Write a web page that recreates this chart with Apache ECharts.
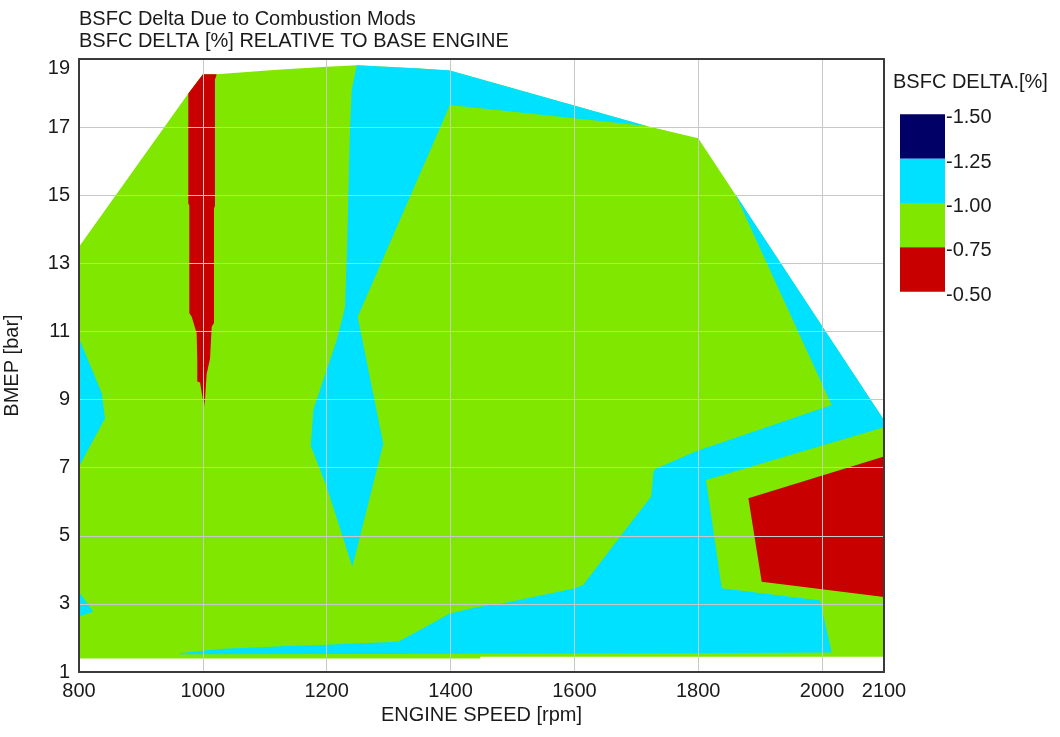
<!DOCTYPE html>
<html>
<head>
<meta charset="utf-8">
<script src="https://cdn.jsdelivr.net/npm/echarts@6/dist/echarts.min.js"></script>
<style>
html,body{margin:0;padding:0;background:#fff;}
#chart{width:1060px;height:737px;}
</style>
</head>
<body>
<div id="chart"></div>
<script>
// ---- Data ----
const titleText = 'BSFC Delta Due to Combustion Mods';
const subTitleText = 'BSFC DELTA [%] RELATIVE TO BASE ENGINE';
const xName = 'ENGINE SPEED [rpm]';
const yName = 'BMEP [bar]';
const legendTitle = 'BSFC DELTA.[%]';

const xTicks = [800, 1000, 1200, 1400, 1600, 1800, 2000, 2100];
const yTicks = [1, 3, 5, 7, 9, 11, 13, 15, 17, 19];

// contour levels (legend, top to bottom) and band colours
const levelLabels = ['-1.50', '-1.25', '-1.00', '-0.75', '-0.50'];
const bandColors = ['#000066', '#00e0ff', '#80e800', '#c80000'];

// region outlines in data units [rpm, bar]
const envelope = [[800,1.40],[800,13.49],[976.5,17.99],[1000,18.55],[1022.4,18.55],[1114,18.68],[1200,18.77],
  [1248.5,18.82],[1350,18.72],[1399,18.66],[1716.8,17.03],[1800,16.67],[2100,8.40],[2100,1.45],[1448,1.45],[1448,1.40]];

const cyanTop = [[1248.5,18.82],[1350,18.72],[1399,18.66],[1716.8,17.03],[1399,17.65],[1250.1,11.43],[1291.4,7.70],
  [1253.8,4.97],[1241.4,4.09],[1200,6.44],[1174.2,7.64],[1178.4,8.70],[1183.9,9.0],[1205.4,10.16],[1216.2,10.75],
  [1225.9,11.43],[1229.6,11.73],[1233.3,13.69],[1237.7,17.01],[1240.4,18.09]];

const cyanRight = [[1859.5,15.04],[2100,8.40],[2100,8.19],[1812.6,6.64],[1838,3.46],[1996.7,3.10],[2015.6,1.57],
  [1769,1.55],[1265,1.53],[963,1.52],[963,1.55],[995,1.62],[1033,1.68],[1092,1.73],[1146,1.77],[1200,1.80],
  [1243,1.84],[1315.7,1.89],[1399,2.72],[1442,2.90],[1485,3.02],[1601,3.46],[1614.5,3.56],[1673.7,4.97],
  [1724,6.15],[1728,6.91],[1733,6.98],[1797.5,7.49],[2015.6,8.84]];

const cyanLeft = [[800,10.80],[836.7,9.19],[842,8.45],[800,7.03]];
const cyanLeftBottom = [[800,3.36],[823,2.77],[800,2.63]];

const redStrip = [[976.5,17.99],[1000,18.55],[1022.4,18.55],[1019.6,18.4],[1019.6,14.7],[1018,14.6],[1018,11.25],
  [1014.3,11.14],[1011.6,10.2],[1008.8,9.97],[1006.2,9.75],[1003.5,9.0],[1001.9,8.79],[1000.5,8.79],[1000,9.0],
  [995.5,9.5],[991,9.53],[991,10.16],[990,10.95],[982,11.43],[978.1,11.54],[978.1,14.7],[976.5,14.76]];

const redCorner = [[1881,6.10],[2100,7.33],[2100,3.20],[1902.5,3.65]];

// drawing order: later regions paint over earlier ones
const regions = [
  {pts: envelope, band: 2},
  {pts: cyanTop, band: 1},
  {pts: cyanRight, band: 1},
  {pts: cyanLeft, band: 1},
  {pts: cyanLeftBottom, band: 1},
  {pts: redStrip, band: 3},
  {pts: redCorner, band: 3}
];

// ---- Chart ----
const FONT = 'Liberation Sans, Arial, Helvetica, sans-serif';
const TXT = '#1a1a1a';
const chart = echarts.init(document.getElementById('chart'), null, {renderer: 'canvas'});

const GRID = {left: 79, top: 59, width: 805, height: 613, containLabel: false, outerBoundsMode: 'none'};

const legendGraphics = [];
const boxTop = 114.3, boxH = 44.35, boxX = 900, boxW = 45;
legendGraphics.push({type: 'text', left: 893, top: 72,
  style: {text: legendTitle, font: '20px ' + FONT, fill: TXT}});
for (let i = 0; i < bandColors.length; i++) {
  legendGraphics.push({type: 'rect', shape: {x: boxX, y: boxTop + i * boxH, width: boxW, height: boxH},
    style: {fill: bandColors[i]}});
}
for (let i = 0; i < levelLabels.length; i++) {
  legendGraphics.push({type: 'text', x: boxX + boxW + 1, y: boxTop + i * boxH + 3.5,
    style: {text: levelLabels[i], font: '20px ' + FONT, fill: TXT, verticalAlign: 'middle', align: 'left'}});
}

const frameLine = {show: true, lineStyle: {color: '#3a3a3a', width: 2}};

const option = {
  animation: false,
  textStyle: {fontFamily: FONT},
  title: [
    {text: titleText, left: 79, top: 9, padding: 0,
      textStyle: {fontSize: 20, fontWeight: 'normal', color: TXT, fontFamily: FONT}},
    {text: subTitleText, left: 79, top: 31, padding: 0,
      textStyle: {fontSize: 20, fontWeight: 'normal', color: TXT, fontFamily: FONT}}
  ],
  grid: GRID,
  xAxis: [
    {type: 'value', min: 800, max: 2100, position: 'bottom', z: 5,
      name: xName, nameLocation: 'middle', nameGap: 30,
      nameTextStyle: {fontSize: 20, color: TXT, fontFamily: FONT},
      axisLine: frameLine,
      axisTick: {show: false, customValues: xTicks},
      axisLabel: {customValues: xTicks, fontSize: 20, color: TXT, margin: 9, fontFamily: FONT,
        formatter: v => String(v)},
      splitLine: {show: true, lineStyle: {color: '#c8c8c8', width: 1}}},
    {type: 'value', min: 800, max: 2100, position: 'top', z: 5,
      axisLine: frameLine, axisTick: {show: false}, axisLabel: {show: false}, splitLine: {show: false}}
  ],
  yAxis: [
    {type: 'value', min: 1, max: 19, interval: 2, position: 'left', z: 5,
      name: yName, nameLocation: 'middle', nameGap: 57,
      nameTextStyle: {fontSize: 20, color: TXT, fontFamily: FONT},
      axisLine: frameLine,
      axisTick: {show: false},
      axisLabel: {fontSize: 20, color: TXT, margin: 9, fontFamily: FONT,
        formatter: v => (v === yTicks[yTicks.length - 1] ? '{t|' + v + '}' : String(v)),
        rich: {t: {fontSize: 20, color: TXT, fontFamily: FONT, padding: [19, 0, 0, 0]}}},
      splitLine: {show: true, lineStyle: {color: '#c8c8c8', width: 1}}},
    {type: 'value', min: 1, max: 19, interval: 2, position: 'right', z: 5,
      axisLine: frameLine, axisTick: {show: false}, axisLabel: {show: false}, splitLine: {show: false}}
  ],
  series: [{
    type: 'custom',
    coordinateSystem: 'cartesian2d',
    xAxisIndex: 0, yAxisIndex: 0,
    silent: true,
    clip: true,
    z: 2,
    data: regions.map(r => r.pts[0]),
    renderItem: function (params, api) {
      const r = regions[params.dataIndex];
      return {
        type: 'polygon',
        shape: {points: r.pts.map(p => api.coord(p))},
        style: {fill: bandColors[r.band], stroke: null}
      };
    }
  }],
  graphic: legendGraphics
};
chart.setOption(option);
</script>
</body>
</html>
